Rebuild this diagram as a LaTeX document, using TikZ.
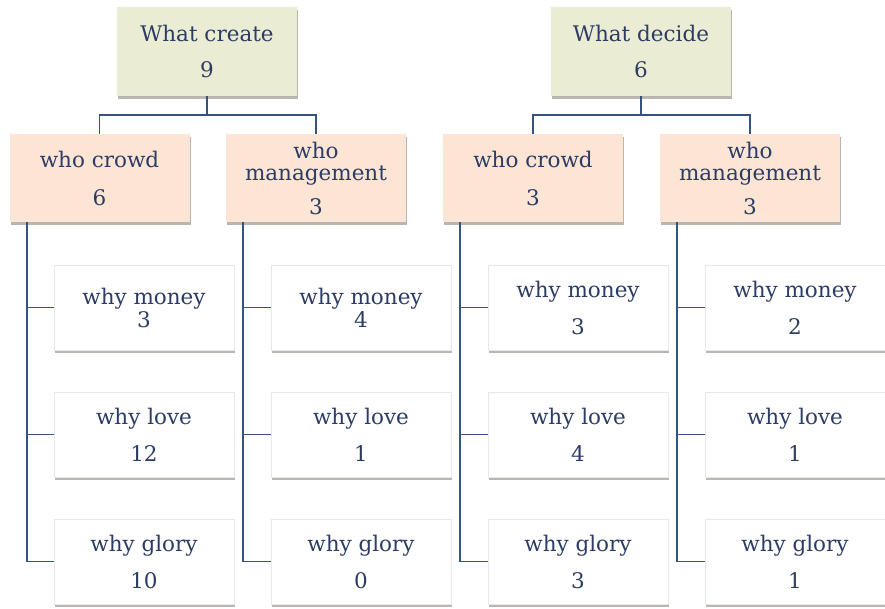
\documentclass[tikz,border=0pt]{standalone}
\usepackage{fontspec}
\setmainfont{DejaVu Serif}
\usetikzlibrary{shadows}
\definecolor{inkblue}{RGB}{44,60,100}
\definecolor{linkblue}{RGB}{52,84,126}
\definecolor{topfill}{RGB}{235,236,212}
\definecolor{midfill}{RGB}{252,229,212}
\definecolor{shadowgray}{RGB}{140,132,122}
\tikzset{
  box/.style={rectangle, align=center, text=inkblue, inner sep=0pt,
    font=\fontsize{21.5}{25}\selectfont, minimum width=180pt,
    drop shadow={shadow xshift=1.2pt, shadow yshift=-3pt, fill=shadowgray, opacity=.6}},
  topbox/.style={box, fill=topfill, minimum height=89pt},
  midbox/.style={box, fill=midfill, minimum height=88pt},
  leafbox/.style={box, fill=white, draw=black!9, line width=1pt, minimum height=85pt},
  link/.style={draw=linkblue, line width=1.8pt}
}
\begin{document}
\begin{tikzpicture}[x=1pt, y=-1pt]
\useasboundingbox (0,0) rectangle (885,608);

% top level
\node[topbox] (t1) at (207,51.5) {What create\\[11pt]9};
\node[topbox] (t2) at (641,51.5) {What decide\\[11pt]6};

% second level
\node[midbox] (m1) at (99.5,178) {who crowd\\[13pt]6};
\node[midbox] (m2) at (316,178) {who\\[-3pt]management\\[9pt]3};
\node[midbox] (m3) at (533,178) {who crowd\\[13pt]3};
\node[midbox] (m4) at (750,178) {who\\[-3pt]management\\[9pt]3};

% leaves, one column per second-level box
\node[leafbox] (l11) at (144,307.5) {why money\\[-2pt]3};
\node[leafbox] (l12) at (144,434.5) {why love\\[12pt]12};
\node[leafbox] (l13) at (144,561.5) {why glory\\[12pt]10};

\node[leafbox] (l21) at (361,307.5) {why money\\[-2pt]4};
\node[leafbox] (l22) at (361,434.5) {why love\\[12pt]1};
\node[leafbox] (l23) at (361,561.5) {why glory\\[12pt]0};

\node[leafbox] (l31) at (578,307.5) {why money\\[12pt]3};
\node[leafbox] (l32) at (578,434.5) {why love\\[12pt]4};
\node[leafbox] (l33) at (578,561.5) {why glory\\[12pt]3};

\node[leafbox] (l41) at (795,307.5) {why money\\[12pt]2};
\node[leafbox] (l42) at (795,434.5) {why love\\[12pt]1};
\node[leafbox] (l43) at (795,561.5) {why glory\\[12pt]1};

% top-to-second-level connectors
\coordinate (j1) at ([yshift=-19pt]t1.south);
\coordinate (j2) at ([yshift=-19pt]t2.south);
\draw[link] (t1.south) -- (j1) -| (m1.north);
\draw[link] (j1) -| (m2.north);
\draw[link] (t2.south) -- (j2) -| (m3.north);
\draw[link] (j2) -| (m4.north);

% second-level-to-leaf connectors
\foreach \m in {1,2,3,4}{
  \coordinate (s\m) at ([xshift=17.5pt]m\m.south west);
  \foreach \l in {1,2,3}{
    \draw[link] (s\m) |- (l\m\l.west);
  }
}
\end{tikzpicture}
\end{document}
